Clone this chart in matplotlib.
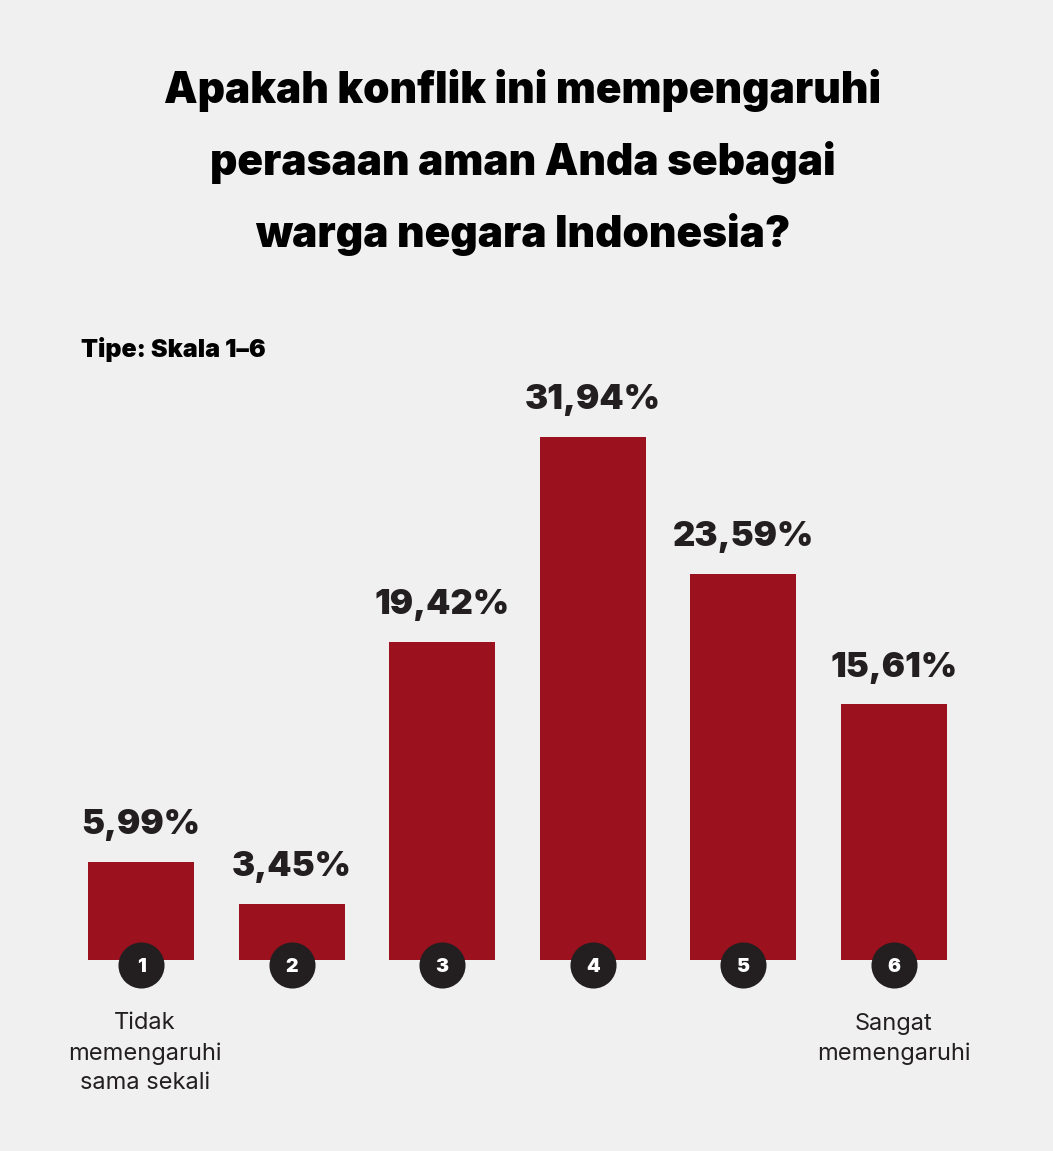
"""Survey bar chart: rasa aman sebagai WNI, skala 1-6."""

import matplotlib

matplotlib.use("Agg")
import matplotlib.pyplot as plt

categories = ["1", "2", "3", "4", "5", "6"]
values = [5.99, 3.45, 19.42, 31.94, 23.59, 15.61]
value_labels = ["5,99%", "3,45%", "19,42%", "31,94%", "23,59%", "15,61%"]
title_lines = [
    "Apakah konflik ini mempengaruhi",
    "perasaan aman Anda sebagai",
    "warga negara Indonesia?",
]
scale_note = "Tipe: Skala 1–6"
left_label = "Tidak\nmemengaruhi\nsama sekali"
right_label = "Sangat\nmemengaruhi"

BG = "#f0f0f0"
BAR = "#9b111e"
DARK = "#231f20"
W, H = 1053, 1151

plt.rcParams["font.family"] = ["Inter", "DejaVu Sans"]

fig = plt.figure(figsize=(W / 100, H / 100), dpi=100, facecolor=BG)

# axes placed in pixel terms: bar centres at 141 + i*150.6, baseline at y=960
ax_left, ax_right = 65.7, 969.3
ax_bottom, ax_top = H - 960, H - 387
ax = fig.add_axes([ax_left / W, ax_bottom / H, (ax_right - ax_left) / W,
                   (ax_top - ax_bottom) / H])
ax.set_facecolor("none")
ax.set_xlim(-0.5, 5.5)
ax.set_ylim(0, 35)
ax.axis("off")

x = list(range(len(categories)))
ax.bar(x, values, width=0.704, color=BAR, zorder=2)

for xi, v, lab in zip(x, values, value_labels):
    ax.annotate(lab, (xi, v), xytext=(0, 20), textcoords="offset points",
                ha="center", va="baseline", fontsize=25, fontweight=900,
                color=DARK)

ax.scatter(x, [-0.28] * len(x), s=1100, color=DARK, linewidths=0,
           zorder=3, clip_on=False)
for xi, c in zip(x, categories):
    ax.annotate(c, (xi, -0.28), xytext=(0, -5.5), textcoords="offset points",
                ha="center", va="baseline", fontsize=14, fontweight=900,
                color="white", zorder=4, annotation_clip=False)

label_style = dict(textcoords="offset points", ha="center", va="baseline",
                   fontsize=17, color=DARK, linespacing=1.45,
                   annotation_clip=False)
ax.annotate(left_label, (x[0], 0), xytext=(3, -93), **label_style)
ax.annotate(right_label, (x[-1], 0), xytext=(0, -72), **label_style)

for i, line in enumerate(title_lines):
    fig.text(523 / W, 1 - (103 + 72 * i) / H, line, ha="center",
             va="baseline", fontsize=30.5, fontweight=900, color="black")

fig.text(81 / W, 1 - 357 / H, scale_note, ha="left", va="baseline",
         fontsize=18, fontweight=900, color="black")

fig.savefig("out.png", dpi=100, facecolor=BG)
